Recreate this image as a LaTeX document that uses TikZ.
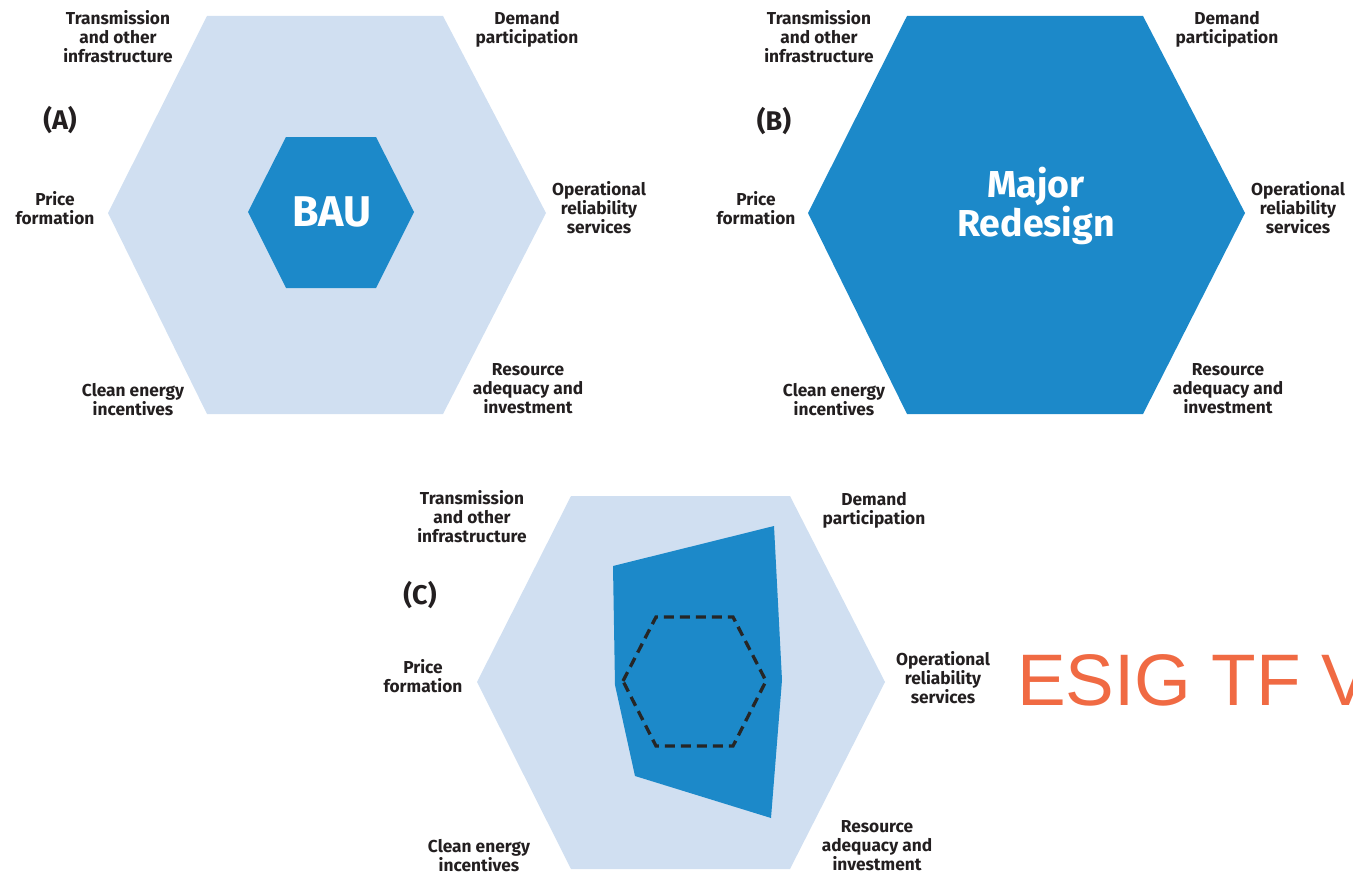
\documentclass[tikz,border=0pt]{standalone}
\usepackage{fontspec}
\setmainfont{Fira Sans}
\newfontfamily\esigfont{Liberation Sans}
\definecolor{lightblue}{RGB}{208,223,241}
\definecolor{darkblue}{RGB}{28,137,201}
\definecolor{textdark}{RGB}{35,31,32}
\definecolor{esigorange}{RGB}{240,106,67}
\tikzset{
  lbl/.style={align=center, text=textdark, inner sep=0pt, font=\bfseries\fontsize{17.3}{19}\selectfont},
  tag/.style={text=textdark, inner sep=0pt, font=\bfseries\fontsize{27}{30}\selectfont},
  bigw/.style={align=center, text=white, inner sep=0pt},
  outerhex/.style={fill=lightblue, draw=none},
  blueshape/.style={fill=darkblue, draw=none},
  dashhex/.style={draw=black!85, line width=3.3pt, dash pattern=on 10pt off 6pt, line join=miter}
}
\begin{document}
\begin{tikzpicture}[x=1pt,y=-1pt]
\useasboundingbox (0,0) rectangle (1353,875);
\clip (0,0) rectangle (1353,875);
% ---------- (A)
\fill[outerhex] (108,213) -- (207,16) -- (443,16) -- (546,213) -- (443,414) -- (207,414) -- cycle;
\fill[blueshape] (248,212) -- (286,137) -- (376,137) -- (414,212) -- (376,288) -- (286,288) -- cycle;
\node[bigw, font=\bfseries\fontsize{43}{43}\selectfont] (bau) at (332,212) {BAU};
\node[lbl] (a1) at (118,37) {Transmission\\and other\\infrastructure};
\node[lbl] (a2) at (527,29.5) {Demand\\participation};
\node[tag] (atag) at (60,120) {(A)};
\node[lbl] (a3) at (55,208) {Price\\formation};
\node[lbl] (a4) at (599,208) {Operational\\reliability\\services};
\node[lbl] (a5) at (133,399.5) {Clean energy\\incentives};
\node[lbl] (a6) at (528,389) {Resource\\adequacy and\\investment};
% ---------- (B)
\fill[blueshape] (808,213) -- (907,16) -- (1143,16) -- (1245,213) -- (1143,414) -- (907,414) -- cycle;
\node[bigw, font=\bfseries\fontsize{37.5}{35}\selectfont] (major) at (1036,206) {Major\\Redesign};
\node[lbl] (b1) at (819,37) {Transmission\\and other\\infrastructure};
\node[lbl] (b2) at (1227,29.5) {Demand\\participation};
\node[tag] (btag) at (774,121) {(B)};
\node[lbl] (b3) at (756,208) {Price\\formation};
\node[lbl] (b4) at (1298,208) {Operational\\reliability\\services};
\node[lbl] (b5) at (834,399.5) {Clean energy\\incentives};
\node[lbl] (b6) at (1228,389) {Resource\\adequacy and\\investment};
% ---------- (C)
\fill[outerhex] (477,682) -- (571,496) -- (790,496) -- (885,682) -- (790,869) -- (571,869) -- cycle;
\fill[blueshape] (613,566) -- (774,526) -- (782,680) -- (771,818) -- (635,776) -- (615,685) -- cycle;
\draw[dashhex] (623,681) -- (656,617) -- (733,617) -- (766,681) -- (733,746) -- (656,746) -- cycle;
\node[lbl] (c1) at (472,517) {Transmission\\and other\\infrastructure};
\node[lbl] (c2) at (874,510) {Demand\\participation};
\node[tag] (ctag) at (420,595) {(C)};
\node[lbl] (c3) at (423,676) {Price\\formation};
\node[lbl] (c4) at (943,678) {Operational\\reliability\\services};
\node[lbl] (c5) at (479,856) {Clean energy\\incentives};
\node[lbl] (c6) at (877,846) {Resource\\adequacy and\\investment};
% ---------- watermark text
\node[anchor=base west, inner sep=0pt, text=esigorange, font=\esigfont\fontsize{73}{73}\selectfont] (esig) at (1017,705) {ESIG TF V};
\end{tikzpicture}
\end{document}
